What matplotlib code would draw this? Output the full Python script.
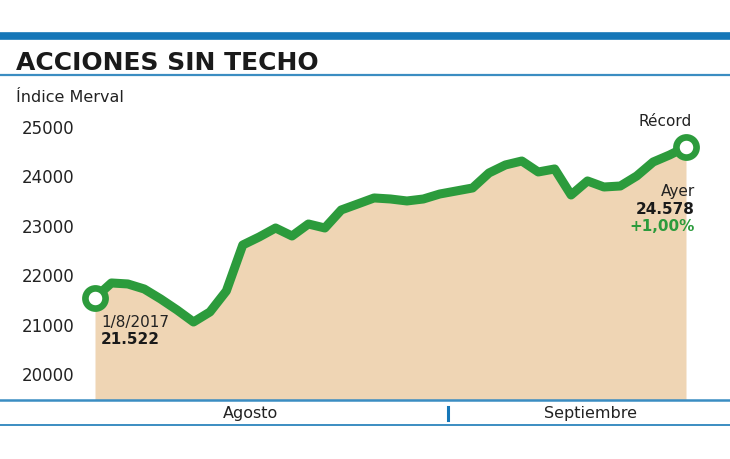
import matplotlib
matplotlib.use('Agg')
import matplotlib.pyplot as plt
from matplotlib.lines import Line2D

# Merval index, daily closes from 1/8/2017 to "ayer"
merval = [21522, 21822, 21802, 21700, 21498, 21275, 21032, 21235, 21660, 22591,
          22753, 22935, 22773, 23016, 22935, 23300, 23421, 23543, 23522, 23482,
          23522, 23623, 23684, 23745, 24049, 24211, 24291, 24069, 24130, 23603,
          23887, 23765, 23785, 23988, 24271, 24413, 24578]
days = list(range(len(merval)))
yticks = [20000, 21000, 22000, 23000, 24000, 25000]
months = ['Agosto', 'Septiembre']
month_pos = [9.5, 30.2]      # label centres, in day units
month_split = 21.5

W, H = 730, 460
BLUE = '#1677b8'
GREEN = '#2c9b3c'
FILL = '#efd5b4'

def fx(px):
    return px / W

def fy(py):
    return 1 - py / H

fig = plt.figure(figsize=(7.3, 4.6), dpi=100)
fig.patch.set_facecolor('white')

# frame lines
fig.add_artist(Line2D([0, 1], [fy(36.5), fy(36.5)], color=BLUE, lw=5.5))
fig.add_artist(Line2D([0, 1], [fy(76), fy(76)], color='#3b8dc2', lw=1.6))
fig.add_artist(Line2D([0, 1], [fy(401), fy(401)], color='#3b8dc2', lw=1.8))
fig.add_artist(Line2D([0, 1], [fy(426), fy(426)], color='#3b8dc2', lw=1.4))

fig.text(fx(16), fy(63), 'ACCIONES SIN TECHO', fontsize=18, fontweight='heavy',
         color='#1a1a1a', va='center', ha='left')
fig.text(fx(16), fy(97), 'Índice Merval', fontsize=11.5, color='#222222',
         va='center', ha='left')

ax = fig.add_axes([fx(95), fy(401), fx(686 - 95), fy(80) - fy(401)])
ax.set_xlim(0, len(merval) - 1)
ax.set_ylim(19453, 25951)
ax.set_facecolor('none')
for s in ax.spines.values():
    s.set_visible(False)

ax.fill_between(days, merval, 19453, color=FILL, lw=0)
ax.plot(days, merval, color=GREEN, lw=6.5, solid_joinstyle='round',
        solid_capstyle='round', zorder=3, clip_on=False)
ax.plot([days[0], days[-1]], [merval[0], merval[-1]], 'o', ms=14.5, mfc='white',
        mec=GREEN, mew=4.8, zorder=4, clip_on=False)

ax.set_yticks(yticks)
ax.set_yticklabels([str(v) for v in yticks], fontsize=12, color='#222222')
ax.tick_params(axis='y', length=0, pad=15)
ax.set_xticks([])

# annotations
ax.annotate('1/8/2017', (days[0], merval[0]), xytext=(6, -24), textcoords='offset pixels',
            fontsize=11, color='#222222', ha='left', va='center')
ax.annotate('21.522', (days[0], merval[0]), xytext=(6, -41), textcoords='offset pixels',
            fontsize=11, fontweight='bold', color='#1a1a1a', ha='left', va='center')
ax.annotate('Récord', (days[-1], merval[-1]), xytext=(-21, 26), textcoords='offset pixels',
            fontsize=11, color='#222222', ha='center', va='center')
ax.annotate('Ayer', (days[-1], merval[-1]), xytext=(9, -44), textcoords='offset pixels',
            fontsize=11, color='#222222', ha='right', va='center')
ax.annotate('24.578', (days[-1], merval[-1]), xytext=(9, -62), textcoords='offset pixels',
            fontsize=11, fontweight='bold', color='#1a1a1a', ha='right', va='center')
ax.annotate('+1,00%', (days[-1], merval[-1]), xytext=(9, -79), textcoords='offset pixels',
            fontsize=11, fontweight='bold', color=GREEN, ha='right', va='center')

# month band under the chart
for name, pos in zip(months, month_pos):
    ax.text(pos, -0.04, name, transform=ax.get_xaxis_transform(), fontsize=11.5,
            color='#222222', ha='center', va='center')
ax.plot([month_split, month_split], [-0.022, -0.062], transform=ax.get_xaxis_transform(),
        color=BLUE, lw=2.2, clip_on=False)

fig.savefig('out.png', dpi=100, facecolor='white')
